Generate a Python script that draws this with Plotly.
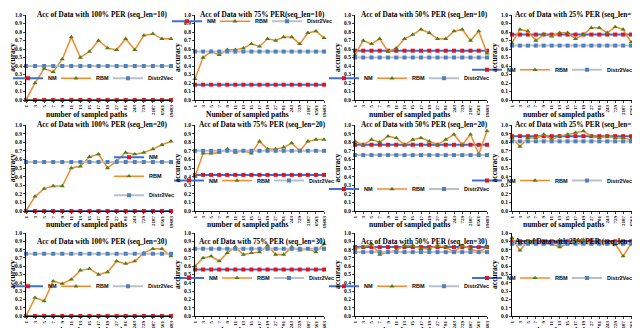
import plotly.graph_objects as go

# x categories (number of sampled paths)
paths = ["1", "3", "5", "7", "9", "11", "13", "15", "17", "19",
         "27", "81", "243", "729", "2187", "6561", "19683"]

titles = [
    "Acc of Data with 100% PER (seq_len=10)", "Acc of Data with 75% PER(seq_len=10)",
    "Acc of Data with 50% PER (seq_len=10)", "Acc of Data with 25% PER (seq_len=10)",
    "Acc of Data with 100% PER (seq_len=20)", "Acc of Data with 75% PER (seq_len=20)",
    "Acc of Data with 50% PER (seq_len=20)", "Acc of Data with 25% PER (seq_len=20)",
    "Acc of Data with 100% PER (seq_len=30)", "Acc of Data with 75% PER (seq_len=30)",
    "Acc of Data with 50% PER (seq_len=30)", "Acc of Data with 25% PER (seq_len=30)",
]
xtitles = ["number of sampled paths", "Number of sampled paths"] + ["number of sampled paths"] * 10

# NM and Distr2Vec are flat lines, one level per panel
nm_level = [0.0, 0.18, 0.58, 0.77,
            0.0, 0.42, 0.77, 0.87,
            0.0, 0.56, 0.83, 0.90]
d2v_level = [0.40, 0.57, 0.50, 0.64,
             0.57, 0.70, 0.65, 0.81,
             0.75, 0.81, 0.77, 0.87]

rbm = [
    [0.00, 0.20, 0.37, 0.33, 0.48, 0.74, 0.50, 0.57, 0.70, 0.61, 0.59, 0.72, 0.59, 0.76, 0.78, 0.72, 0.72],
    [0.25, 0.50, 0.57, 0.53, 0.59, 0.59, 0.61, 0.66, 0.63, 0.72, 0.70, 0.74, 0.74, 0.66, 0.79, 0.81, 0.73],
    [0.53, 0.70, 0.66, 0.72, 0.57, 0.61, 0.72, 0.77, 0.83, 0.79, 0.72, 0.72, 0.81, 0.83, 0.70, 0.81, 0.55],
    [0.67, 0.83, 0.81, 0.70, 0.77, 0.75, 0.79, 0.79, 0.72, 0.77, 0.85, 0.85, 0.79, 0.86, 0.83, 0.68, 0.75],
    [0.00, 0.17, 0.26, 0.29, 0.29, 0.50, 0.52, 0.63, 0.66, 0.50, 0.58, 0.68, 0.66, 0.68, 0.72, 0.77, 0.81],
    [0.40, 0.67, 0.67, 0.68, 0.72, 0.68, 0.70, 0.67, 0.81, 0.72, 0.72, 0.74, 0.79, 0.70, 0.81, 0.83, 0.83],
    [0.81, 0.77, 0.83, 0.80, 0.87, 0.85, 0.77, 0.83, 0.85, 0.81, 0.77, 0.83, 0.89, 0.77, 0.89, 0.66, 0.93],
    [0.85, 0.75, 0.85, 0.85, 0.89, 0.83, 0.87, 0.89, 0.91, 0.93, 0.87, 0.85, 0.87, 0.85, 0.85, 0.83, 0.80],
    [0.00, 0.22, 0.18, 0.42, 0.39, 0.44, 0.55, 0.57, 0.50, 0.53, 0.66, 0.63, 0.66, 0.76, 0.81, 0.81, 0.72],
    [0.60, 0.70, 0.72, 0.66, 0.76, 0.83, 0.74, 0.76, 0.77, 0.85, 0.74, 0.74, 0.83, 0.79, 0.81, 0.77, 0.87],
    [0.81, 0.83, 0.87, 0.74, 0.77, 0.79, 0.85, 0.85, 0.81, 0.81, 0.85, 0.83, 0.77, 0.85, 0.81, 0.77, 0.83],
    [0.94, 0.79, 0.90, 0.89, 0.87, 0.87, 0.83, 0.87, 0.90, 0.92, 0.87, 0.90, 0.89, 0.87, 0.72, 0.87, 0.88],
]
yticks = [0.0, 0.1, 0.2, 0.3, 0.4, 0.5, 0.6, 0.7, 0.8, 0.9, 1.0]

W, H = 640, 328
col_px = [(18, 163), (187, 316), (347, 479), (504, 631)]
row_px = [(7, 92), (117, 203), (225, 308)]
title_y = [6, 116, 233]
xtitle_y = [106, 216, 322]
# legend: visual left edge in px, middle as fraction of plot height, orientation
leg_pos = [(9, 0.15, "h"), (168, 0.82, "h"), (325, 0.15, "h"), (468, 0.25, "h"),
           (110, 0.30, "v"), (170, 0.25, "h"), (325, 0.15, "h"), (468, 0.25, "h"),
           (9, 0.25, "h"), (170, 0.35, "h"), (325, 0.25, "h"), (468, 0.35, "h")]
LEG_DX, LEG_DY = 9, 9  # shift plotly adds around the legend items
# text part of each legend entry, px
entry_w = {"NM": 3, "RBM": 7, "Distr2Vec": 26}

SERIF = "Liberation Serif"
NM_LINE, NM_MARK = "#3F6FD6", "#E3141B"
RBM_LINE, RBM_MARK = "#F58A2C", "#4E7F1C"
D2V_LINE, D2V_MARK = "#B7C0CC", "#4F81BD"

fig = go.Figure()
layout = {}
annotations = []

for i in range(12):
    r, c = divmod(i, 4)
    n = "" if i == 0 else str(i + 1)
    x0, x1 = col_px[c]
    ytop, ybot = row_px[r]
    dx = [x0 / W, x1 / W]
    dy = [1 - ybot / H, 1 - ytop / H]
    leg = "legend" + n

    fig.add_trace(go.Scatter(
        x=paths, y=[nm_level[i]] * len(paths), name="NM", mode="lines+markers",
        line=dict(color=NM_LINE, width=2), marker=dict(symbol="square", size=4, color=NM_MARK),
        xaxis="x" + n, yaxis="y" + n, legend=leg, legendwidth=entry_w["NM"],
        cliponaxis=False))
    fig.add_trace(go.Scatter(
        x=paths, y=rbm[i], name="RBM", mode="lines+markers",
        line=dict(color=RBM_LINE, width=1.5), marker=dict(symbol="triangle-up", size=4.5, color=RBM_MARK),
        xaxis="x" + n, yaxis="y" + n, legend=leg, legendwidth=entry_w["RBM"],
        cliponaxis=False))
    fig.add_trace(go.Scatter(
        x=paths, y=[d2v_level[i]] * len(paths), name="Distr2Vec", mode="lines+markers",
        line=dict(color=D2V_LINE, width=2), marker=dict(symbol="square", size=4, color=D2V_MARK),
        xaxis="x" + n, yaxis="y" + n, legend=leg, legendwidth=entry_w["Distr2Vec"],
        cliponaxis=False))

    layout["xaxis" + n] = dict(
        domain=dx, anchor="y" + n, type="category", range=[0, len(paths) - 1],
        tickangle=-90, tickfont=dict(family=SERIF, size=5, color="black", weight="bold"),
        showline=True, linecolor="black", linewidth=1, ticks="outside", ticklen=2,
        showgrid=False, zeroline=False)
    layout["yaxis" + n] = dict(
        domain=dy, anchor="x" + n, range=[0, 1], tickvals=yticks, tickformat=".1f",
        tickfont=dict(family=SERIF, size=5.5, color="black", weight="bold"),
        showline=True, linecolor="black", linewidth=1, ticks="outside", ticklen=2,
        showgrid=False, zeroline=False,
        title=dict(text="accuracy", font=dict(family=SERIF, size=7.5, color="black", weight="bold"),
                   standoff=2))
    lx, ly, orient = leg_pos[i]
    ymid_px = ybot - ly * (ybot - ytop)
    layout[leg] = dict(
        x=(lx - LEG_DX) / W, y=1 - (ymid_px - LEG_DY) / H,
        xanchor="left", yanchor="middle", orientation=orient,
        entrywidthmode="pixels",
        bgcolor="rgba(0,0,0,0)", itemwidth=30,
        font=dict(family="Liberation Sans", size=5.5, color="black", weight="bold"))

    cx = (x0 + x1) / 2
    annotations.append(dict(
        text=titles[i], x=(cx + 3) / W, y=1 - title_y[r] / H, xref="paper", yref="paper",
        showarrow=False, xanchor="center", yanchor="middle",
        font=dict(family=SERIF, size=7.3, color="black", weight="bold")))
    annotations.append(dict(
        text=xtitles[i], x=(cx - 12) / W, y=1 - xtitle_y[r] / H, xref="paper", yref="paper",
        showarrow=False, xanchor="center", yanchor="middle",
        font=dict(family=SERIF, size=7.5, color="black", weight="bold")))

fig.update_layout(**layout)
fig.update_layout(
    width=W, height=H, margin=dict(l=0, r=0, t=0, b=0, autoexpand=False),
    paper_bgcolor="white", plot_bgcolor="white",
    annotations=annotations, showlegend=True)

fig.write_html("out.html")
